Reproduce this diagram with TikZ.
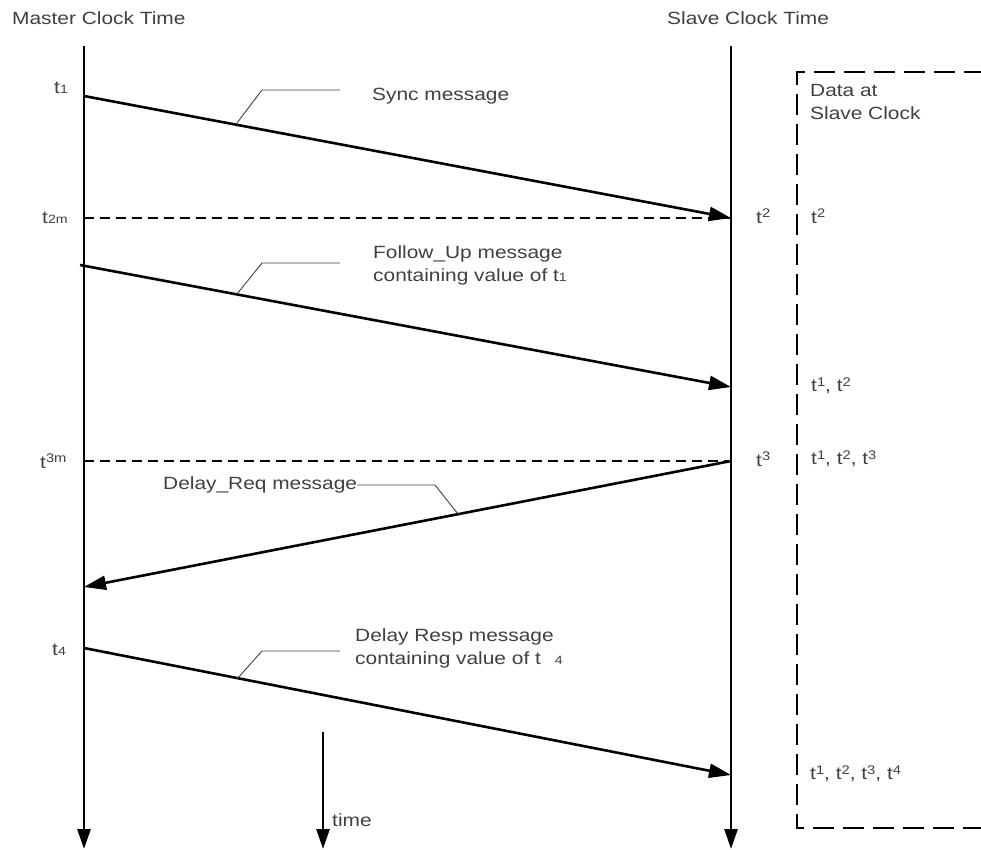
\documentclass[tikz,border=0pt]{standalone}
\usepackage{fontspec}
\setmainfont[FakeStretch=1.18]{Liberation Sans}
\usetikzlibrary{arrows.meta}
\definecolor{txt}{HTML}{404040}
\newcommand{\smdig}[1]{{\fontsize{12}{12}\selectfont #1}}
\newcommand{\supdig}[1]{\raisebox{5.5pt}{\fontsize{12.5}{12}\selectfont #1}}
\begin{document}
\begin{tikzpicture}[x=1pt,y=-1pt,
  lbl/.style={text=txt,inner sep=0pt,anchor=west,font=\fontsize{17.7}{23}\selectfont,align=left},
  timeline/.style={line width=2.8pt,-{Triangle[length=20pt,width=13pt]}},
  msg/.style={line width=2.6pt,-{Triangle[length=22pt,width=14pt]}},
  leader/.style={line width=0.9pt,draw=txt},
  marker/.style={line width=1.1pt,dash pattern=on 10pt off 6pt},
  databox/.style={line width=2.8pt,dash pattern=on 21pt off 9pt}]
\path[use as bounding box] (0,0) rectangle (981,850);

% time lines
\coordinate (mtop) at (84,46);
\coordinate (mbot) at (84,849);
\coordinate (stop) at (731,46);
\coordinate (sbot) at (731,849);
\coordinate (ttop) at (323,732);
\coordinate (tbot) at (323,849);
\draw[timeline] (mtop) -- (mbot);
\draw[timeline] (stop) -- (sbot);
\draw[timeline] (ttop) -- (tbot);

\node[lbl] (mtitle) at (12,18) {Master Clock Time};
\node[lbl] (stitle) at (667,18) {Slave Clock Time};
\node[lbl] (time) at (332,820) {time};

% data box
\coordinate (b1) at (985,72);
\coordinate (b2) at (797,72);
\coordinate (b3) at (797,828);
\coordinate (b4) at (985,828);
\draw[databox] (b1) -- (b2) -- (b3) -- (b4);
\node[lbl] (dtitle) at (810,102) {Data at\\Slave Clock};

% points
\coordinate (m1) at (84,96);
\coordinate (s2) at (731,218);
\coordinate (m2) at (84,218);
\coordinate (mf) at (80,265);
\coordinate (sf) at (731,387);
\coordinate (s3) at (731,461);
\coordinate (m3) at (84,461);
\coordinate (mr) at (84,587);
\coordinate (m4) at (84,648);
\coordinate (s4) at (731,775);

% marker lines
\draw[marker] (m2) -- (s2);
\draw[marker] (m3) -- (s3);

% messages
\draw[msg] (m1) -- (s2);
\draw[msg] (mf) -- (sf);
\draw[msg] (s3) -- (mr);
\draw[msg] (m4) -- (s4);

% left labels
\node[lbl] (lt1) at (54,88) {t\smdig{1}};
\node[lbl] (lt2m) at (42,218) {t\smdig{2m}};
\node[lbl] (lt3m) at (40,461) {t\supdig{3m}};
\node[lbl] (lt4) at (52,650) {t\smdig{4}};

% slave labels
\node[lbl] (st2) at (756,216) {t\supdig{2}};
\node[lbl] (st3) at (756,459) {t\supdig{3}};

% data
\node[lbl] (d1) at (811,216) {t\supdig{2}};
\node[lbl] (d2) at (811,386) {t\supdig{1}, t\supdig{2}};
\node[lbl] (d3) at (811,459) {t\supdig{1}, t\supdig{2}, t\supdig{3}};
\node[lbl] (d4) at (810,774) {t\supdig{1}, t\supdig{2}, t\supdig{3}, t\supdig{4}};

% message labels and leaders
\node[lbl] (sync) at (372,96) {Sync message};
\coordinate (a1) at (237,123);
\coordinate (a1k) at (262,90);
\coordinate (a1e) at (340,90);
\draw[leader] (a1) -- (a1k) -- (a1e);

\node[lbl] (fup) at (373,265) {Follow\_Up message\\containing value of t\smdig{1}};
\coordinate (a2) at (237,294);
\coordinate (a2k) at (262,263);
\coordinate (a2e) at (340,263);
\draw[leader] (a2) -- (a2k) -- (a2e);

\node[lbl] (dreq) at (163,485) {Delay\_Req message};
\coordinate (a3) at (458,514);
\coordinate (a3k) at (435,485);
\draw[leader] (a3) -- (a3k) -- (dreq.east);

\node[lbl] (dresp) at (355,648) {Delay Resp message\\containing value of t\hspace{14pt}\smdig{4}};
\coordinate (a4) at (237,679);
\coordinate (a4k) at (262,651);
\coordinate (a4e) at (340,651);
\draw[leader] (a4) -- (a4k) -- (a4e);
\end{tikzpicture}
\end{document}
